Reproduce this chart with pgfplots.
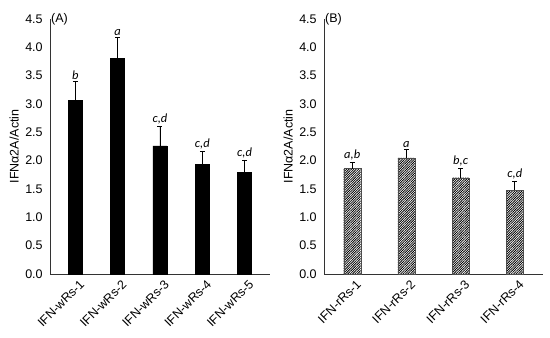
\documentclass[border=0pt]{standalone}
\usepackage{pgfplots}
\pgfplotsset{compat=1.18}
\usepackage{fontspec}
\setmainfont{Liberation Sans}
\newfontfamily\letfont{Carlito}
\usetikzlibrary{patterns.meta}
\begin{document}
\fontsize{12.5}{14}\selectfont
\begin{tikzpicture}
\useasboundingbox (0pt,0pt) rectangle (550pt,338pt);
\pgfplotsset{
  panel/.style={
    scale only axis,
    anchor=south west,
    height=255pt,
    ymin=0, ymax=4.5,
    ytick={0,0.5,...,4.5},
    axis x line*=bottom,
    axis y line*=left,
    axis line style={line width=0.7pt, -, black!80},
    xtick=data,
    xtick style={draw=none},
    ytick style={draw=none},
    yticklabel style={xshift=-3pt, /pgf/number format/.cd, fixed, fixed zerofill, precision=1, assume math mode=true},
    ticklabel style={font=\fontsize{12.5}{14}\selectfont},
    xticklabel style={rotate=45, anchor=north east, inner sep=1pt, yshift=-5pt},
    ylabel={IFNα2A/Actin},
    ylabel style={font=\fontsize{12.5}{14}\selectfont},
    ylabel shift=-2pt,
    clip=false,
  },
  errstyle/.style={error bars/.cd, y dir=plus, y explicit,
     error bar style={line width=0.8pt, black},
     error mark options={line width=0.8pt, mark size=2.5pt, rotate=90}},
  letters/.style={only marks, mark=none, nodes near coords, point meta=explicit symbolic,
     every node near coord/.append style={font=\letfont\itshape\fontsize{12.5}{14}\selectfont, anchor=south, inner sep=2pt}},
}
\begin{axis}[panel, at={(50pt,64pt)}, width=220pt,
  xmin=-0.6, xmax=4.6,
  xticklabels={IFN-wRs-1,IFN-wRs-2,IFN-wRs-3,IFN-wRs-4,IFN-wRs-5}]
\addplot[ybar, bar width=14pt, fill=black, draw=black, errstyle] coordinates {
  (0,3.07) +- (0,0.33)
  (1,3.80) +- (0,0.37)
  (2,2.26) +- (0,0.34)
  (3,1.93) +- (0,0.23)
  (4,1.79) +- (0,0.21)
};
\addplot[letters] coordinates {
  (0,3.40) [b]
  (1,4.17) [a]
  (2,2.60) [c,d]
  (3,2.16) [c,d]
  (4,2.00) [c,d]
};
\node[anchor=west, inner sep=1pt] at (rel axis cs:0,1) {(A)};
\end{axis}
\begin{axis}[panel, at={(324pt,64pt)}, width=219pt,
  xmin=-0.52, xmax=3.52,
  xticklabels={IFN-rRs-1,IFN-rRs-2,IFN-rRs-3,IFN-rRs-4}]
\addplot[ybar, bar width=17pt, draw=black!70, line width=0.3pt,
  pattern={Lines[angle=45,distance=1.7pt,line width=0.8pt]}, pattern color=black, errstyle] coordinates {
  (0,1.86) +- (0,0.11)
  (1,2.05) +- (0,0.15)
  (2,1.70) +- (0,0.17)
  (3,1.48) +- (0,0.15)
};
\addplot[letters] coordinates {
  (0,1.97) [a,b]
  (1,2.20) [a]
  (2,1.87) [b,c]
  (3,1.63) [c,d]
};
\node[anchor=west, inner sep=1pt] at (rel axis cs:0,1) {(B)};
\end{axis}
\end{tikzpicture}
\end{document}
